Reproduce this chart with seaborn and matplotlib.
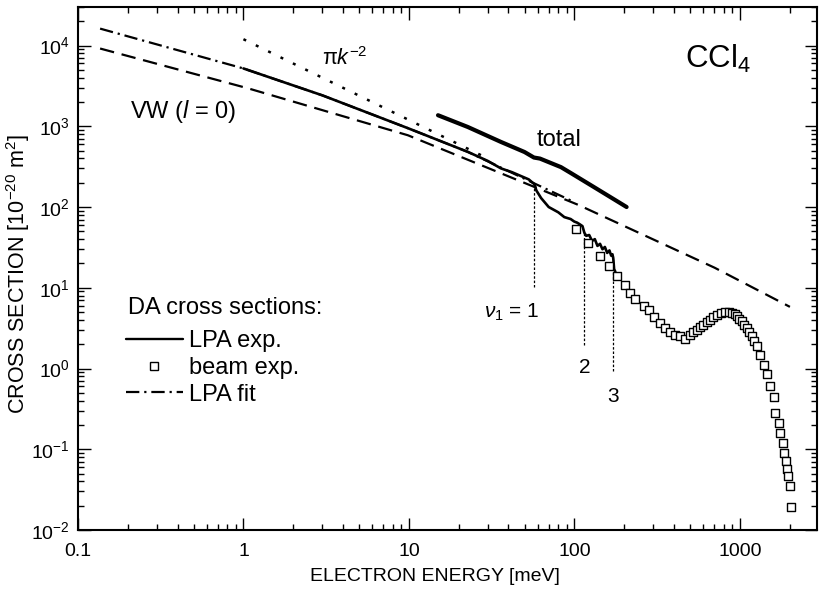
import matplotlib
matplotlib.use("Agg")
import matplotlib.pyplot as plt
import seaborn as sns
import pandas as pd
from matplotlib.lines import Line2D
from matplotlib.ticker import FixedLocator, FixedFormatter, LogLocator, NullFormatter

# ---------------- data ----------------
# Vogt-Wannier (l = 0) curve, dashed
vw_energy = [0.136, 1.07, 9.86, 106, 705, 2010]
vw_sigma = [9180, 2944, 774, 106, 17.7, 5.8]

# pi k^-2 limit, dotted
pik_energy = [1.0, 30.0]
pik_sigma = [11970, 399]

# LPA fit, dash-dot
fit_energy = [0.136, 1.0, 3.0, 10, 22.7, 57, 100]
fit_sigma = [16200, 5200, 2415, 937, 482, 197, 115]

# LPA experiment, solid
lpa_energy = [1.0, 3.0, 10, 22.7, 30, 36, 42, 48, 53, 57.3, 59, 63, 70, 80, 87,
              95, 100, 104, 108, 112, 115, 118, 123, 128, 133, 138, 143, 148,
              153, 158, 163, 167, 170, 172, 174, 177]
lpa_sigma = [5200, 2415, 937, 482, 372, 301, 270, 240, 220, 192, 160, 129, 100,
             86, 75, 71, 66, 64, 61, 58, 48, 44, 45, 38, 40, 33, 35, 30, 32,
             27, 29, 25, 26, 23, 17, 15.8]

# total cross section, thick solid
tot_energy = [15, 22.7, 36, 50, 57, 62, 83, 96, 130, 170, 207]
tot_sigma = [1370, 980, 640, 480, 410, 398, 312, 261, 179, 128, 100]

# beam experiment, open squares
beam_energy = [103, 121, 142, 162, 182, 202, 218, 234, 264, 282, 304, 329, 352,
               378, 405, 435, 466, 500, 525, 548, 575, 602, 630, 660, 690, 726,
               770, 815, 855, 895, 930, 960, 995, 1028, 1065, 1103, 1140, 1182,
               1225, 1267, 1327, 1392, 1458, 1527, 1600, 1637, 1717, 1755, 1815,
               1855, 1900, 1928, 1954, 2018, 2046]
beam_sigma = [53.1, 36.3, 24.8, 18.7, 13.8, 10.9, 8.6, 7.25, 6.0, 5.25, 4.35,
              3.67, 3.18, 2.81, 2.63, 2.51, 2.35, 2.63, 2.8, 3.03, 3.25, 3.49,
              3.75, 4.03, 4.35, 4.64, 4.85, 4.96, 4.95, 4.87, 4.7, 4.42, 4.15,
              3.84, 3.5, 3.18, 2.85, 2.51, 2.2, 1.88, 1.49, 1.12, 0.843, 0.604,
              0.438, 0.284, 0.214, 0.161, 0.121, 0.091, 0.0718, 0.0566, 0.0468,
              0.0352, 0.0191]

# vibrational thresholds (nu1 = 1, 2, 3)
nu_energy = [57.3, 115, 172]
nu_top = [190, 48, 25]
nu_bottom = [10.3, 1.98, 0.92]
nu_labels = ["2", "3"]
nu_label_y = [1.03, 0.45]

xtick_values = [0.1, 1, 10, 100, 1000]
xtick_labels = ["0.1", "1", "10", "100", "1000"]
ytick_values = [1e-2, 1e-1, 1e0, 1e1, 1e2, 1e3, 1e4]
ytick_labels = [r"$10^{-2}$", r"$10^{-1}$", r"$10^{0}$", r"$10^{1}$",
                r"$10^{2}$", r"$10^{3}$", r"$10^{4}$"]

# ---------------- style ----------------
sns.set_theme(style="ticks")
plt.rcParams["font.family"] = ["Liberation Sans", "DejaVu Sans"]
plt.rcParams["mathtext.fontset"] = "custom"
plt.rcParams["mathtext.rm"] = "Liberation Sans"
plt.rcParams["mathtext.it"] = "Liberation Sans:italic"
plt.rcParams["mathtext.sf"] = "Liberation Sans"
plt.rcParams["axes.unicode_minus"] = False
for key in ["text.color", "axes.labelcolor", "xtick.color", "ytick.color",
            "axes.edgecolor", "xtick.labelcolor", "ytick.labelcolor"]:
    plt.rcParams[key] = "black"

FS = 14      # tick labels, axis labels
AFS = 17     # legend / annotations

fig, ax = plt.subplots(figsize=(8.19, 5.91), dpi=100)
fig.subplots_adjust(left=78 / 819, right=817 / 819, bottom=1 - 530 / 591, top=1 - 7 / 591)

ax.set_xscale("log")
ax.set_yscale("log")

lw = 1.6
dashdot = (0, (6, 2.2, 1, 2.2))
sns.lineplot(x=vw_energy, y=vw_sigma, ax=ax, color="black", lw=lw,
             linestyle=(0, (6.5, 3.5)), estimator=None, sort=False)
sns.lineplot(x=pik_energy, y=pik_sigma, ax=ax, color="black", lw=1.8,
             linestyle=(0, (1.2, 4.3)), estimator=None, sort=False)
sns.lineplot(x=fit_energy, y=fit_sigma, ax=ax, color="black", lw=lw,
             linestyle=dashdot, estimator=None, sort=False)
sns.lineplot(x=lpa_energy, y=lpa_sigma, ax=ax, color="black", lw=1.9,
             estimator=None, sort=False)
sns.lineplot(x=tot_energy, y=tot_sigma, ax=ax, color="black", lw=3.0,
             estimator=None, sort=False)
ax.vlines(nu_energy, nu_bottom, nu_top, colors="black", lw=0.9,
          linestyles=(0, (2, 1.5)))
sns.scatterplot(x=beam_energy, y=beam_sigma, ax=ax, marker="s", s=30,
                color="white", edgecolor="black", linewidth=1.0, zorder=5)

ax.set_xlim(0.1, 2930)
ax.set_ylim(1e-2, 3e4)

ax.xaxis.set_major_locator(FixedLocator(xtick_values))
ax.xaxis.set_major_formatter(FixedFormatter(xtick_labels))
ax.xaxis.set_minor_locator(LogLocator(base=10, subs=range(2, 10), numticks=20))
ax.xaxis.set_minor_formatter(NullFormatter())
ax.yaxis.set_major_locator(FixedLocator(ytick_values))
ax.yaxis.set_major_formatter(FixedFormatter(ytick_labels))
ax.yaxis.set_minor_locator(LogLocator(base=10, subs=range(2, 10), numticks=20))
ax.yaxis.set_minor_formatter(NullFormatter())

ax.tick_params(which="both", direction="in", top=True, right=True, color="black",
               width=1.0)
ax.tick_params(which="major", length=9, labelsize=FS)
ax.tick_params(axis="x", which="major", pad=9)
ax.tick_params(axis="y", which="major", pad=6)
ax.tick_params(which="minor", length=4.5)
for s in ax.spines.values():
    s.set_linewidth(1.5)
    s.set_color("black")

ax.set_xlabel("ELECTRON ENERGY [meV]", fontsize=FS)
ax.set_ylabel(r"CROSS SECTION [10$^{-20}$ m$^{2}$]", fontsize=15.5)
ax.xaxis.set_label_coords(0.483, -0.073)
ax.yaxis.set_label_coords(-0.062, 0.49)

# annotations
ax.text(0.821, 0.883, r"CCl$_4$", transform=ax.transAxes, fontsize=22.5,
        ha="left", va="baseline")
ax.text(0.070, 0.801, r"VW ($\mathit{l}$ = 0)", transform=ax.transAxes,
        fontsize=AFS, ha="left", va="center")
ax.text(0.330, 0.889, r"π$\mathit{k}^{-2}$", transform=ax.transAxes,
        fontsize=15.5, ha="left", va="baseline")
ax.text(81, 671, "total", fontsize=AFS, ha="center", va="center")
ax.text(28.5, 4.27, r"$\mathit{\nu}_{1}$ = 1", fontsize=15, ha="left",
        va="baseline")
for lab, e, yv in zip(nu_labels, nu_energy[1:], nu_label_y):
    ax.text(e, yv, lab, fontsize=15, ha="center", va="center")

# legend block
ax.text(0.0677, 0.4245, "DA cross sections:", transform=ax.transAxes,
        fontsize=AFS, ha="left", va="center")
handles = [
    Line2D([], [], color="black", lw=1.7),
    Line2D([], [], color="white", marker="s", markersize=5.5,
           markerfacecolor="white", markeredgecolor="black", markeredgewidth=1.0,
           lw=0),
    Line2D([], [], color="black", lw=lw, linestyle=dashdot),
]
leg = ax.legend(handles, ["LPA exp.", "beam exp.", "LPA fit"],
                loc="upper left", bbox_to_anchor=(0.065, 0.382), frameon=False,
                fontsize=AFS, handlelength=2.4, handletextpad=0.25,
                labelspacing=0.2, borderpad=0, borderaxespad=0)

fig.savefig("out.png", dpi=100)
